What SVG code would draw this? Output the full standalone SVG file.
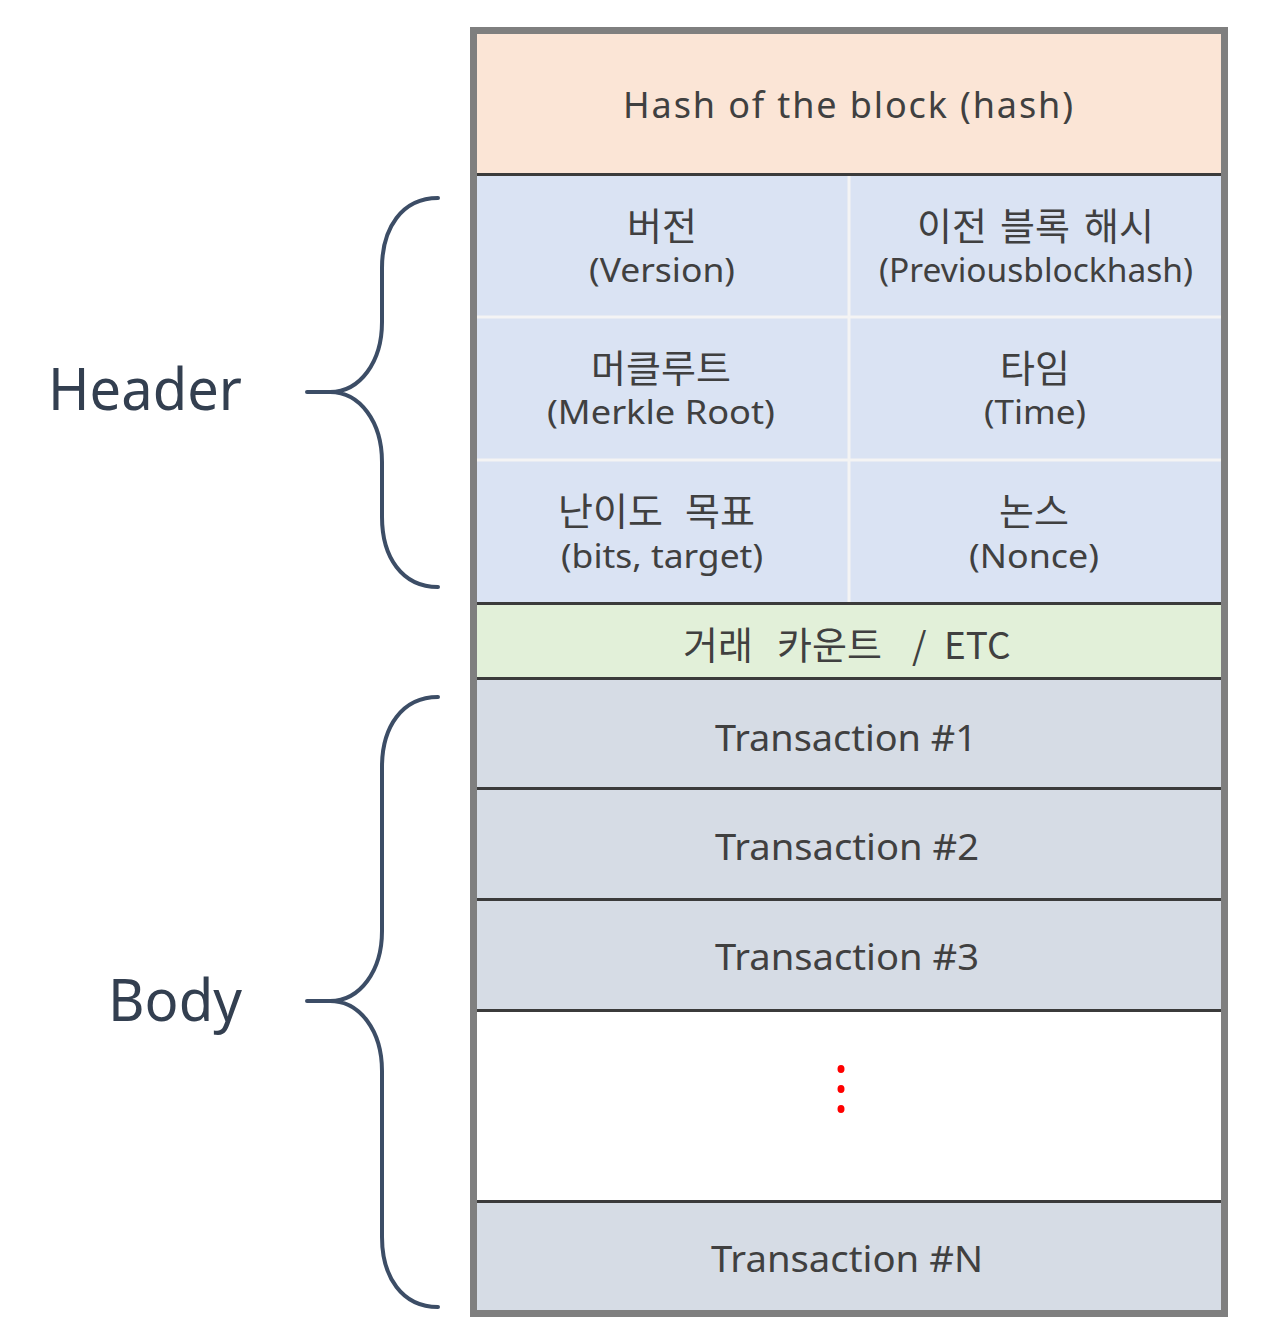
<svg xmlns="http://www.w3.org/2000/svg" width="1280" height="1342" viewBox="0 0 1280 1342">
<style>
  .t { font-family: "Noto Sans", "Noto Sans CJK KR", sans-serif; fill: #404040; text-anchor: middle; }
  .k { font-family: "Noto Sans CJK KR", "Noto Sans", sans-serif; fill: #404040; text-anchor: middle; font-size: 38px; }
  .ks { font-family: "Noto Sans CJK KR", "Noto Sans", sans-serif; fill: #404040; text-anchor: start; font-size: 38px; }
  .big { font-family: "Noto Sans", "Noto Sans CJK KR", sans-serif; fill: #333f50; font-size: 58px; }
  .div { stroke: #3b3b3b; stroke-width: 3; }
  .sep { stroke: #f4f4f4; stroke-width: 3; }
  .brace { fill: none; stroke: #3c4d66; stroke-width: 4; stroke-linecap: round; stroke-linejoin: round; }
</style>
<rect x="0" y="0" width="1280" height="1342" fill="#ffffff"/>

<g id="frame">
  <rect x="473.5" y="30.5" width="751" height="1283" fill="#ffffff" stroke="#7f7f7f" stroke-width="7"/>
</g>

<g id="hash">
  <rect x="477" y="34" width="744" height="139" fill="#fbe5d6"/>
  <text class="t" x="848" y="118" font-size="36" textLength="450" lengthAdjust="spacing">Hash of the block (hash)</text>
</g>

<g id="header-cells">
  <rect x="477" y="176" width="744" height="426" fill="#dae3f3"/>
  <line class="sep" x1="477" y1="317" x2="1221" y2="317"/>
  <line class="sep" x1="477" y1="460" x2="1221" y2="460"/>
  <line class="sep" x1="849" y1="176" x2="849" y2="602"/>
</g>

<g id="version">
  <text class="k" x="662" y="240">버전</text>
  <text class="t" x="662" y="282" font-size="32" textLength="146" lengthAdjust="spacingAndGlyphs">(Version)</text>
</g>
<g id="prevhash">
  <text class="ks" y="240"><tspan x="917">이전 </tspan><tspan x="1000">블록 </tspan><tspan x="1084">해시</tspan></text>
  <text class="t" x="1036" y="282" font-size="32" textLength="314" lengthAdjust="spacingAndGlyphs">(Previousblockhash)</text>
</g>
<g id="merkle">
  <text class="k" x="661" y="382">머클루트</text>
  <text class="t" x="661" y="424" font-size="32" textLength="228" lengthAdjust="spacingAndGlyphs">(Merkle Root)</text>
</g>
<g id="time">
  <text class="k" x="1035" y="382">타임</text>
  <text class="t" x="1035" y="424" font-size="32" textLength="102" lengthAdjust="spacingAndGlyphs">(Time)</text>
</g>
<g id="bits">
  <text class="ks" y="525"><tspan x="558">난이도 </tspan><tspan x="685">목표</tspan></text>
  <text class="t" x="662" y="568" font-size="32" textLength="202" lengthAdjust="spacingAndGlyphs">(bits, target)</text>
</g>
<g id="nonce">
  <text class="k" x="1034" y="525">논스</text>
  <text class="t" x="1034" y="568" font-size="32" textLength="130" lengthAdjust="spacingAndGlyphs">(Nonce)</text>
</g>

<g id="txcount">
  <rect x="477" y="605" width="744" height="72" fill="#e2f0d9"/>
  <text class="ks" y="659" font-size="40"><tspan x="683">거래 </tspan><tspan x="777">카운트 </tspan><tspan x="912" font-size="37">/ </tspan><tspan x="944" font-size="37">ETC</tspan></text>
</g>

<g id="tx1">
  <rect x="477" y="680" width="744" height="107" fill="#d6dce5"/>
  <text class="t" x="846" y="751" font-size="36" textLength="262" lengthAdjust="spacingAndGlyphs">Transaction #1</text>
</g>
<g id="tx2">
  <rect x="477" y="790" width="744" height="108" fill="#d6dce5"/>
  <text class="t" x="847" y="860" font-size="36" textLength="264" lengthAdjust="spacingAndGlyphs">Transaction #2</text>
</g>
<g id="tx3">
  <rect x="477" y="901" width="744" height="108" fill="#d6dce5"/>
  <text class="t" x="847" y="970" font-size="36" textLength="264" lengthAdjust="spacingAndGlyphs">Transaction #3</text>
</g>
<g id="ellipsis">
  <rect x="477" y="1012" width="744" height="188" fill="#ffffff"/>
  <ellipse cx="841" cy="1069" rx="3.5" ry="4" fill="#ff0000"/>
  <ellipse cx="841" cy="1089" rx="3.5" ry="4" fill="#ff0000"/>
  <ellipse cx="841" cy="1109" rx="3.5" ry="4" fill="#ff0000"/>
</g>
<g id="txN">
  <rect x="477" y="1203" width="744" height="107" fill="#d6dce5"/>
  <text class="t" x="847" y="1272" font-size="36" textLength="272" lengthAdjust="spacingAndGlyphs">Transaction #N</text>
</g>

<g id="dividers">
  <line class="div" x1="477" y1="174.5" x2="1221" y2="174.5"/>
  <line class="div" x1="477" y1="603.5" x2="1221" y2="603.5"/>
  <line class="div" x1="477" y1="678.5" x2="1221" y2="678.5"/>
  <line class="div" x1="477" y1="788.5" x2="1221" y2="788.5"/>
  <line class="div" x1="477" y1="899.5" x2="1221" y2="899.5"/>
  <line class="div" x1="477" y1="1010.5" x2="1221" y2="1010.5"/>
  <line class="div" x1="477" y1="1201.5" x2="1221" y2="1201.5"/>
</g>

<g id="header-label">
  <text class="big" x="48" y="410" textLength="194" lengthAdjust="spacingAndGlyphs">Header</text>
</g>
<g id="body-label">
  <text class="big" x="108" y="1021" textLength="134" lengthAdjust="spacingAndGlyphs">Body</text>
</g>

<g id="connectors">
  <path class="brace" d="M438,198 C402,198 382,228 382,268 L382,322 C382,362 360,392 330,392 L307,392 M330,392 C360,392 382,422 382,462 L382,517 C382,557 402,587 438,587"/>
  <path class="brace" d="M438,697 C402,697 382,727 382,767 L382,931 C382,971 360,1001 330,1001 L307,1001 M330,1001 C360,1001 382,1031 382,1071 L382,1237 C382,1277 402,1307 438,1307"/>
</g>
</svg>
